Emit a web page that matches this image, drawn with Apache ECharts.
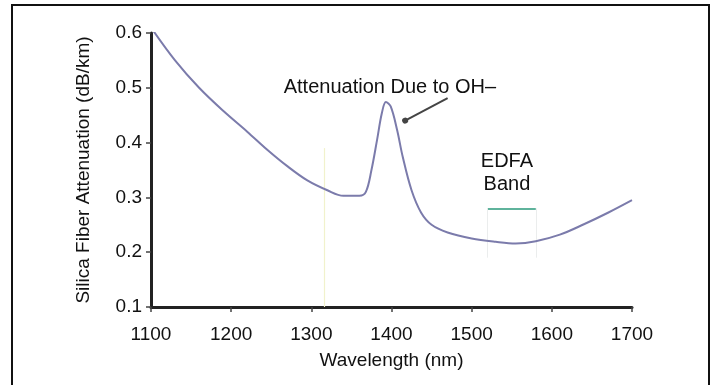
<!DOCTYPE html>
<html>
<head>
<meta charset="utf-8">
<script src="https://cdn.jsdelivr.net/npm/echarts@6/dist/echarts.min.js"></script>
<style>
  html, body { margin: 0; padding: 0; background: #fff; }
  #main { width: 715px; height: 385px; }
</style>
</head>
<body>
<div id="main"></div>
<script>
// wavelength (nm) vs attenuation (dB/km)
const wavelengths = [1100, 1130, 1160, 1190, 1220, 1245, 1270, 1295, 1320, 1340, 1360, 1368, 1375, 1382, 1388, 1393, 1399, 1407, 1414, 1425, 1437, 1450, 1470, 1500, 1530, 1555, 1580, 1610, 1640, 1670, 1700];
const attenuation = [0.61, 0.55, 0.50, 0.458, 0.420, 0.387, 0.357, 0.331, 0.313, 0.303, 0.303, 0.31, 0.35, 0.405, 0.454, 0.474, 0.466, 0.423, 0.374, 0.313, 0.272, 0.250, 0.236, 0.225, 0.219, 0.216, 0.220, 0.232, 0.251, 0.272, 0.295];

const xTicks = [1100, 1200, 1300, 1400, 1500, 1600, 1700];
const yTicks = [0.1, 0.2, 0.3, 0.4, 0.5, 0.6];

// annotation anchors (data coords)
const ohLabel = "Attenuation Due to OH\u2013";
const ohLabelAt = [1398, 0.50];
const ohArrow = [[1470, 0.481], [1417, 0.440]];
const edfaLabel = ["EDFA", "Band"];
const edfaLabelAt = [1544, 0.344];
const edfaBand = [1520, 1580];
const edfaLevel = 0.28;
const edfaFloor = 0.19;
const yellowMark = 1316;
const yellowTop = 0.39;

const font = "'Liberation Sans', Arial, sans-serif";

const chart = echarts.init(document.getElementById("main"), null, { renderer: "canvas" });

const option = {
  animation: false,
  grid: { left: 151, right: 83, top: 33, bottom: 78 },
  xAxis: {
    type: "value",
    min: xTicks[0],
    max: xTicks[xTicks.length - 1],
    interval: 100,
    name: "Wavelength (nm)",
    nameLocation: "middle",
    nameGap: 44,
    nameTextStyle: { color: "#111", fontSize: 19, fontFamily: font },
    axisLine: { lineStyle: { color: "#222", width: 3 } },
    axisTick: { show: true, length: 5, lineStyle: { color: "#444", width: 1.5 } },
    axisLabel: {
      color: "#111", fontSize: 19, fontFamily: font, margin: 18,
      formatter: (v) => String(v),
    },
    splitLine: { show: false },
  },
  yAxis: {
    type: "value",
    min: yTicks[0],
    max: yTicks[yTicks.length - 1],
    interval: 0.1,
    name: "Silica Fiber Attenuation (dB/km)",
    nameLocation: "middle",
    nameGap: 58,
    nameTextStyle: { color: "#111", fontSize: 19, fontFamily: font },
    axisLine: { show: true, lineStyle: { color: "#222", width: 3 } },
    axisTick: { show: true, length: 5, lineStyle: { color: "#444", width: 1.5 } },
    axisLabel: {
      color: "#111", fontSize: 19, fontFamily: font, margin: 9,
      formatter: (v) => v.toFixed(1),
    },
    splitLine: { show: false },
  },
  series: [
    {
      type: "line",
      data: wavelengths.map((w, i) => [w, attenuation[i]]),
      smooth: 0.35,
      symbol: "none",
      lineStyle: { color: "#7b7bab", width: 2 },
      z: 5,
      markLine: {
        silent: true,
        symbol: "none",
        label: { show: false },
        data: [
          [
            { coord: [yellowMark, yTicks[0]], lineStyle: { color: "#f1f2cc", width: 1.2, type: "solid" } },
            { coord: [yellowMark, yellowTop] },
          ],
          [
            { coord: [edfaBand[0], edfaLevel], lineStyle: { color: "#5fb39c", width: 2, type: "solid" } },
            { coord: [edfaBand[1], edfaLevel] },
          ],
          [
            { coord: [edfaBand[0], edfaLevel], lineStyle: { color: "#ebeded", width: 1, type: "solid" } },
            { coord: [edfaBand[0], edfaFloor] },
          ],
          [
            { coord: [edfaBand[1], edfaLevel], lineStyle: { color: "#ebeded", width: 1, type: "solid" } },
            { coord: [edfaBand[1], edfaFloor] },
          ],
          [
            { coord: ohArrow[0], symbol: "none", lineStyle: { color: "#444", width: 2, type: "solid" } },
            { coord: ohArrow[1], symbol: "circle", symbolSize: 6, itemStyle: { color: "#333" } },
          ],
        ],
      },
    },
  ],
};

chart.setOption(option);

const px = (p) => chart.convertToPixel({ gridIndex: 0 }, p);
const ohPos = px(ohLabelAt);
const edfaPos = px(edfaLabelAt);

chart.setOption({
  graphic: [
    {
      type: "rect",
      shape: { x: 12, y: 5, width: 697, height: 400 },
      style: { fill: "none", stroke: "#111", lineWidth: 2 },
      silent: true,
      z: 0,
    },
    {
      type: "text",
      x: ohPos[0],
      y: ohPos[1],
      style: {
        text: ohLabel, fill: "#111", font: "20px " + font,
        align: "center", verticalAlign: "middle",
      },
    },
    {
      type: "text",
      x: edfaPos[0],
      y: edfaPos[1],
      style: {
        text: edfaLabel.join("\n"), fill: "#111", font: "20px " + font,
        align: "center", verticalAlign: "middle", lineHeight: 23,
      },
    },
  ],
});
</script>
</body>
</html>
